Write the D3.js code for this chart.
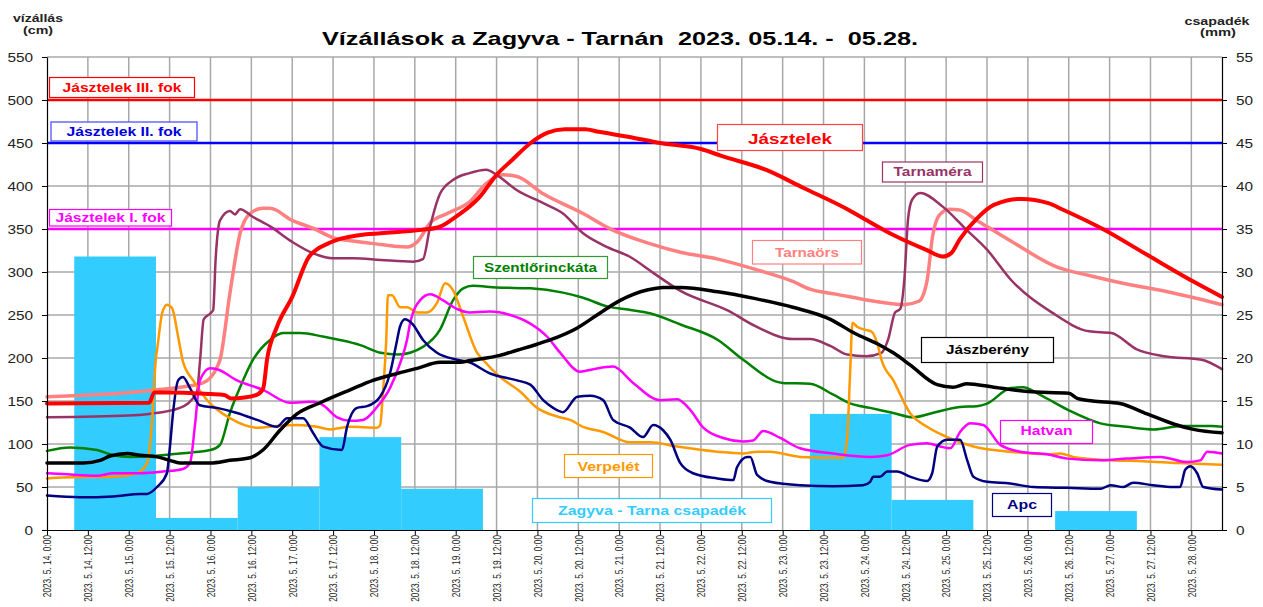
<!DOCTYPE html>
<html><head><meta charset="utf-8">
<script src="https://cdn.jsdelivr.net/npm/d3@7"></script>
<style>body{margin:0;background:#fff}svg{display:block;font-family:"Liberation Sans",Arial,sans-serif}</style>
</head><body><svg id="c" width="1263" height="607"></svg>
<script>
// ---------- DATA ----------
const startDate = new Date(2023, 4, 14, 0, 0);
const endHours = 345; // hours after 2023.05.14 0:00 shown on the x axis
const tickHours = d3.range(0, 337, 12);
const tickLabels = [
 "2023. 5. 14. 0:00","2023. 5. 14. 12:00","2023. 5. 15. 0:00","2023. 5. 15. 12:00",
 "2023. 5. 16. 0:00","2023. 5. 16. 12:00","2023. 5. 17. 0:00","2023. 5. 17. 12:00",
 "2023. 5. 18. 0:00","2023. 5. 18. 12:00","2023. 5. 19. 0:00","2023. 5. 19. 12:00",
 "2023. 5. 20. 0:00","2023. 5. 20. 12:00","2023. 5. 21. 0:00","2023. 5. 21. 12:00",
 "2023. 5. 22. 0:00","2023. 5. 22. 12:00","2023. 5. 23. 0:00","2023. 5. 23. 12:00",
 "2023. 5. 24. 0:00","2023. 5. 24. 12:00","2023. 5. 25. 0:00","2023. 5. 25. 12:00",
 "2023. 5. 26. 0:00","2023. 5. 26. 12:00","2023. 5. 27. 0:00","2023. 5. 27. 12:00",
 "2023. 5. 28. 0:00"];
const leftTicks = [0,50,100,150,200,250,300,350,400,450,500,550];
const rightTicks = [0,5,10,15,20,25,30,35,40,45,50,55];

// daily precipitation (mm), each bar covers 8:00 of the day to 8:00 of next day
const precipDays = [14,15,16,17,18,19,20,21,22,23,24,25,26,27];
const precipValues = [31.8,1.4,5.0,10.8,4.8,0,0,0,0,13.5,3.5,0,2.2,0];
const precipStartHour = 8;

// alert levels (cm)
const thresholdNames = ["Jásztelek III. fok","Jásztelek II. fok","Jásztelek I. fok"];
const thresholdValues = [500,450,350];

// water levels: [hours after 2023.05.14 0:00, cm]
const jasztelek = [[0,147],[30,148],[31.5,160],[36,160],[48,158],[52,157],[54,153],[58,154],[62,158],[63.5,165],[64.6,198],[67.5,236],[72,271],[77,318],[83,334],[92,343],[98,345],[110,349],[115,352],[120,364],[127,387],[132,413],[136.5,430],[142,450],[147,462],[152,466],[158,466],[162,463],[171,457],[180,450],[192,443],[198,435],[211,419],[222,398],[235,373],[239,364],[248.5,343],[258,326],[263,318],[265.5,322],[268,338],[273,362],[278,378],[286,385],[294,380],[298,373],[310,350],[323,320],[337,288],[345,271]];
const tarnamera = [[0,131],[24,133],[30,135],[39,142],[44,160],[45,200],[46,245],[48,252],[48.8,256],[49.5,314],[50.8,360],[53.7,371],[55.2,367],[56.7,373],[60.5,364],[65.5,353],[72,335],[78,322],[84,316],[90,316],[98,314],[107.5,312],[110.4,315],[112.5,353],[115.4,391],[119.2,407],[124,415],[129,419],[132,413],[138,395],[145.7,380],[151.5,368],[157.4,345],[164.5,329],[171,318],[178,299],[186,278],[200,255],[208,237],[219,222],[224,222],[230,214],[235,204],[240.5,202],[245,206],[247,222],[249,253],[250.5,257],[251.8,295],[252.8,361],[254,384],[256.4,392],[263,376],[270,349],[276,326],[283,291],[295,253],[306,231],[312.5,229],[320,210],[328,202],[339,198],[345,187]];
const tarnaors = [[0,155],[24.4,160],[32.3,163],[39,166],[45.8,171],[50,190],[50.8,198],[53.7,275],[56.7,345],[59.6,368],[63.4,374],[65.5,374],[72,360],[78,351],[84,340],[92,335],[96,333],[105.7,329],[108.7,335],[112.5,357],[117.5,368],[124.2,382],[129,403],[134,413],[138,411],[145.7,391],[157.4,368],[166,349],[177,333],[186,323],[197,315],[208,303],[219,289],[224,280],[232,274],[243,266],[251.5,262],[256,266],[258.4,290],[260,341],[262,366],[265,373],[268,372],[273,360],[283,336],[297,305],[306,296],[317,286],[328,278],[339,268],[345,262]];
const szentlorinckata = [[0,92],[6.8,96],[14.7,93],[19.4,87],[24.4,85],[31,86],[39,89],[48,93],[50.8,99],[53.7,136],[56.7,166],[60.5,198],[65.5,221],[69.3,229],[74.3,229],[81,225],[86,221],[92,215],[98,206],[103,204],[110.4,213],[115.4,233],[119.2,267],[122.2,281],[125,284],[132,282],[142,281],[151.5,276],[157.4,270],[164.5,260],[171,256],[177,252],[186,239],[197,221],[204.4,198],[216,171],[224,170],[231,157],[236,147],[241.7,142],[248.5,136],[254.3,131],[260,136],[268,143],[273,144],[276,147],[283,165],[286.6,166],[291.6,157],[299.6,140],[309.3,124],[317,120],[325,117],[333,121],[342,121],[345,120]];
const jaszbereny = [[0,78],[10.6,78],[15.6,81],[18.5,86],[23.5,89],[27.3,87],[32.3,85],[36.1,81],[39,78],[48,78],[53.7,81],[59.6,84],[63.4,93],[68.4,116],[73.4,135],[80.2,148],[89,163],[95.7,174],[102.8,182],[108.7,188],[115.4,195],[121.3,195],[124.2,197],[133,203],[138,209],[143.9,216],[147.7,221],[155.7,235],[161.5,250],[168.3,267],[176.2,279],[181,282],[186,282],[197,277],[208,269],[219,259],[230,245],[237,229],[245,214],[248.5,206],[253.4,192],[261.4,169],[266,166],[270,170],[278,166],[288,161],[300,159],[302.5,153],[307,150],[315,147],[323,135],[331,123],[336.6,117],[345,113]];
const verpelet = [[0,60],[4.7,61],[19.4,62],[26.4,66],[29.4,78],[30.8,124],[32,201],[32.3,209],[33.8,252],[35.2,262],[36.7,258],[38.5,225],[39.9,196],[42.9,174],[47,151],[53.7,130],[61.7,119],[67.5,121],[73.4,122],[79.3,120],[83.1,117],[89,120],[96.9,119],[97.8,122],[98.7,163],[99.6,221],[100.1,273],[101.3,273],[103.7,259],[105.7,259],[108.7,253],[111.6,253],[114.5,264],[116.9,287],[119.2,279],[122.2,248],[126.3,206],[128,198],[133,178],[138.9,161],[143.9,142],[149.8,132],[153.6,128],[157.4,120],[163.3,114],[171.2,102],[177.1,102],[185,97],[196.8,91],[204.4,89],[208.5,91],[212.3,91],[221.1,85],[233.8,84],[234.9,105],[235.8,182],[236.5,241],[238,236],[240,233],[242,231],[244,214],[245,198],[248.5,174],[253.4,136],[258.4,120],[264.3,108],[272,97],[282.8,91],[293.7,88],[297.5,89],[301.3,85],[312.3,81],[321.9,80],[331.9,78],[345,76]];
const hatvan = [[0,66],[4.7,65],[14.7,63],[19.4,66],[27.3,66],[34.1,68],[39.9,71],[42,78],[43.5,124],[44.9,174],[47.9,188],[49.9,187],[55.8,174],[63.4,163],[71.4,148],[78.1,149],[81.1,145],[85.2,131],[89,127],[92.8,128],[96.9,143],[100.7,165],[103.7,194],[105.7,221],[106.6,240],[109.5,267],[112.5,274],[116.3,267],[120.4,257],[124.2,253],[130,254],[136,250],[141.9,240],[146.8,225],[150.7,206],[156.5,184],[160.4,187],[166.2,190],[172.1,171],[180,151],[185,152],[188.8,140],[192.7,119],[198.5,107],[204.4,103],[207.3,104],[210.3,115],[215.3,107],[221.1,95],[230.8,89],[241.7,85],[246.7,87],[253.4,99],[258.4,101],[262.3,97],[265.2,95],[268.1,114],[271.1,124],[274.9,122],[279.9,99],[285.8,91],[293.7,88],[299.6,83],[309.3,81],[317.2,83],[326.9,85],[334.8,79],[338.6,81],[340.7,91],[345,89]];
const apc = [[0,40],[9.7,38],[19.4,39],[27.3,42],[29.4,42],[32.3,50],[35.2,66],[36.1,97],[37,136],[38.5,174],[39.9,178],[42,165],[44.9,145],[49.9,142],[55.8,136],[61.7,128],[67.5,120],[70.5,130],[75.2,130],[78.1,113],[81.1,97],[86.6,93],[88.1,120],[91,142],[94,144],[97.8,155],[100.7,182],[102.8,221],[103.6,236],[105.1,245],[107.2,240],[110.4,221],[114.5,206],[120.4,198],[124,195],[130.1,182],[138,174],[141.9,169],[145.7,151],[148.6,142],[151.5,137],[155.7,155],[159.5,156],[163.3,151],[166.2,128],[171.2,119],[175,108],[178,122],[180.9,116],[183,105],[185.9,78],[189.7,66],[196.8,60],[201.5,58],[202.6,73],[205.6,85],[206.5,85],[208.5,64],[212.3,56],[221.1,52],[230.8,51],[239.6,52],[241.7,56],[242.6,62],[244.6,62],[246.7,68],[249.6,68],[253.4,62],[258.4,57],[259.9,66],[261.4,97],[264.3,105],[268.1,105],[270.2,81],[272,62],[276.1,56],[282.8,54],[289.6,50],[299.6,49],[309.3,48],[312.3,52],[316,50],[318.9,55],[324.8,52],[330.7,50],[332.7,50],[334.2,70],[335.7,74],[337.7,66],[339.5,50],[345,47]];

// ---------- CHART ----------
const hDate = h => new Date(startDate.getTime() + h * 3600e3);
const M = {l:47, r:1222, t:57, b:530};
const svg = d3.select("#c");
const x = d3.scaleTime().domain([hDate(0), hDate(endHours)]).range([M.l, M.r]);
const y = d3.scaleLinear().domain([0, 550]).range([M.b, M.t]);
const yR = d3.scaleLinear().domain([0, 55]).range([M.b, M.t]);
const SX = 1.28; // horizontal stretch of the original picture's text

// grid
const grid = svg.append("g").attr("stroke", "#a8a8a8").attr("stroke-width", 1.5);
grid.selectAll("line.v").data(tickHours.slice(1)).join("line").attr("class","v")
  .attr("x1", d => x(hDate(d))).attr("x2", d => x(hDate(d))).attr("y1", M.t).attr("y2", M.b);
grid.selectAll("line.h").data(leftTicks.slice(1)).join("line").attr("class","h")
  .attr("x1", M.l).attr("x2", M.r).attr("y1", d => y(d)).attr("y2", d => y(d));

// precipitation bars
const bars = precipDays.map((d, i) => ({i, v: precipValues[i]})).filter(d => d.v > 0);
svg.append("g").selectAll("rect").data(bars).join("rect")
  .attr("x", d => x(hDate(d.i * 24 + precipStartHour)))
  .attr("width", d => Math.min(M.r, x(hDate(d.i * 24 + precipStartHour + 24))) - x(hDate(d.i * 24 + precipStartHour)))
  .attr("y", d => yR(d.v)).attr("height", d => M.b - yR(d.v))
  .attr("fill", "#33CCFF");

// threshold lines
const thrColors = ["#FF0000", "#0000FF", "#FF00FF"];
svg.append("g").selectAll("line").data(thresholdValues).join("line")
  .attr("x1", M.l).attr("x2", M.r).attr("y1", d => y(d)).attr("y2", d => y(d))
  .attr("stroke", (d, i) => thrColors[i]).attr("stroke-width", 2.5);

// series
const series = [
  {name:"Tarnaörs", data:tarnaors, color:"#FF8080", w:3.5},
  {name:"Tarnaméra", data:tarnamera, color:"#993366", w:2.5},
  {name:"Szentlőrinckáta", data:szentlorinckata, color:"#008000", w:2.5},
  {name:"Verpelét", data:verpelet, color:"#FF9900", w:2.5},
  {name:"Hatvan", data:hatvan, color:"#FF00FF", w:2.5},
  {name:"Apc", data:apc, color:"#000080", w:2.5},
  {name:"Jászberény", data:jaszbereny, color:"#000000", w:3.5},
  {name:"Jásztelek", data:jasztelek, color:"#FF0000", w:4}
];
const line = d3.line().x(d => x(hDate(d[0]))).y(d => y(d[1])).curve(d3.curveMonotoneX);
svg.append("g").attr("fill", "none").attr("stroke-linejoin", "round").attr("stroke-linecap", "round")
  .selectAll("path").data(series).join("path")
  .attr("d", d => line(d.data)).attr("stroke", d => d.color).attr("stroke-width", d => d.w);

// axes
const axL = svg.append("g").attr("transform", `translate(${M.l},0)`)
  .call(d3.axisLeft(y).tickValues(leftTicks).tickSize(5).tickSizeOuter(0).tickFormat(d3.format("d")));
const axR = svg.append("g").attr("transform", `translate(${M.r},0)`)
  .call(d3.axisRight(yR).tickValues(rightTicks).tickSize(5).tickSizeOuter(0).tickFormat(d3.format("d")));
const axB = svg.append("g").attr("transform", `translate(0,${M.b})`)
  .call(d3.axisBottom(x).tickValues(tickHours.map(hDate)).tickSize(5).tickSizeOuter(0)
    .tickFormat((d, i) => tickLabels[i]));
[axL, axR, axB].forEach(a => {
  a.select(".domain").attr("stroke", "#000").attr("stroke-width", 1.2);
  a.selectAll(".tick line").attr("stroke", "#000");
});
axL.selectAll(".tick text").attr("font-size", 12).attr("fill", "#222").attr("font-family", "Liberation Sans, Arial")
  .attr("x", 0).attr("dy", "0.35em").attr("text-anchor", "end")
  .attr("transform", `translate(-14,0) scale(${SX},1)`);
axR.selectAll(".tick text").attr("font-size", 12).attr("fill", "#222").attr("font-family", "Liberation Sans, Arial")
  .attr("x", 0).attr("dy", "0.35em").attr("text-anchor", "start")
  .attr("transform", `translate(14,0) scale(${SX},1)`);
axB.selectAll(".tick text").attr("font-size", 10.5).attr("fill", "#1a1a1a").attr("font-family", "Liberation Sans, Arial")
  .attr("x", 0).attr("y", 0).attr("dy", "0.36em").attr("text-anchor", "end")
  .attr("transform", "translate(0,5) rotate(-90) scale(0.79,1)");

// texts
function txt(t, cx, by, w, size, color, weight) {
  svg.append("text").text(t).attr("x", cx).attr("y", by).attr("text-anchor", "middle")
    .attr("font-size", size).attr("font-weight", weight || "bold").attr("fill", color)
    .attr("textLength", w).attr("lengthAdjust", "spacingAndGlyphs")
    .style("white-space", "pre");
}
txt("Vízállások a Zagyva - Tarnán  2023. 05.14. -  05.28.", 620, 45, 596, 19, "#000");
txt("vízállás", 38, 22, 50, 11, "#222");
txt("(cm)", 38, 34, 30, 11, "#222");
txt("csapadék", 1217, 25, 65, 11, "#222");
txt("(mm)", 1218, 36, 36, 11, "#222");

// label boxes
const boxes = [
  {t:"Jásztelek III. fok", b:[49.5,77.5,194.5,97.5], tw:119, by:92, c:"#FF0000", bc:"#FF0000", s:13},
  {t:"Jásztelek II. fok", b:[51,122,197,141], tw:115, by:136, c:"#0000DD", bc:"#4444FF", s:13},
  {t:"Jásztelek I. fok", b:[49.5,209.5,171.5,226], tw:110, by:222, c:"#FF00FF", bc:"#FF00FF", s:13},
  {t:"Jásztelek", b:[717.5,124.5,862.5,150.5], tw:84, by:144, c:"#FF0000", bc:"#FF4444", s:15},
  {t:"Tarnaméra", b:[882.5,162,982.5,182], tw:78, by:176, c:"#993366", bc:"#993366", s:13},
  {t:"Tarnaörs", b:[752.5,240.5,861.5,264], tw:64, by:257, c:"#FF8080", bc:"#FF8080", s:13},
  {t:"Szentlőrinckáta", b:[473.5,256.5,607.5,278.5], tw:113, by:272, c:"#008000", bc:"#339933", s:13},
  {t:"Jászberény", b:[921.5,337.5,1053.5,362.5], tw:83, by:354, c:"#000000", bc:"#000000", s:13},
  {t:"Hatvan", b:[1000.5,420.5,1092.5,443.5], tw:52, by:435, c:"#FF00FF", bc:"#FF00FF", s:13},
  {t:"Verpelét", b:[564.5,454.5,652.5,477.5], tw:62, by:471, c:"#FF9900", bc:"#FF9900", s:13},
  {t:"Apc", b:[992.5,493.5,1051.5,516.5], tw:30, by:509, c:"#000080", bc:"#000080", s:13},
  {t:"Zagyva - Tarna csapadék", b:[532.5,498.5,771.5,522.5], tw:188, by:515, c:"#33CCFF", bc:"#33CCFF", s:13}
];
boxes.forEach(d => {
  svg.append("rect").attr("x", d.b[0]).attr("y", d.b[1]).attr("width", d.b[2] - d.b[0]).attr("height", d.b[3] - d.b[1])
    .attr("fill", "#fff").attr("stroke", d.bc).attr("stroke-width", 1.2);
  txt(d.t, (d.b[0] + d.b[2]) / 2, d.by, d.tw, d.s, d.c);
});
</script></body></html>
